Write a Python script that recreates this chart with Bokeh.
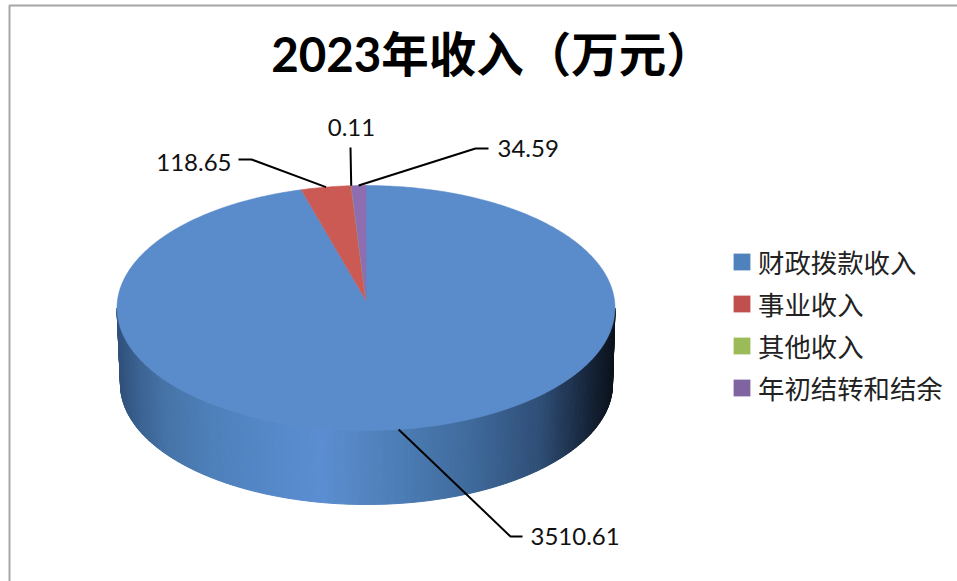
import numpy as np
from bokeh.embed import file_html
from bokeh.resources import INLINE
from bokeh.plotting import figure
from bokeh.models import Range1d, Legend, LegendItem, ColumnDataSource
from bokeh.core.properties import value

# ---- data ----
title_text = "2023年收入（万元）"
categories = ["财政拨款收入", "事业收入", "其他收入", "年初结转和结余"]
values = [3510.61, 118.65, 0.11, 34.59]
value_labels = ["3510.61", "118.65", "0.11", "34.59"]

# ---- styles ----
top_colors = ["#5A8BCB", "#CB5A55", "#9BBB59", "#8E6DB0"]
legend_colors = ["#4F81BD", "#C0504D", "#9BBB59", "#8064A2"]
FONT = "Lato, 'Noto Sans CJK SC'"
LEGEND_FONT = "'Noto Sans CJK SC'"

# ---- layout (page pixels) ----
CX, CY, RX, RY = 365.5, 307.5, 249.0, 122.5
APEX_Y = 300.0
CX2, CY2, RX2, RY2 = 366.0, 384.0, 246.0, 120.0
label_elbows = [(510, 536, 522, 536), (251, 159, 238, 159), (350, 147, 350, 147), (475, 148, 488, 148)]
label_pos = [(530, 536, "left"), (231, 162, "right"), (351, 127, "center"), (497, 148, "left")]
grad_x = [117, 140, 165, 210, 250, 290, 320, 350, 400, 470, 540, 590, 615]
grad_r = [0x30, 0x3C, 0x46, 0x4E, 0x52, 0x58, 0x5B, 0x57, 0x4C, 0x3F, 0x2F, 0x14, 0x0B]
grad_g = [0x50, 0x64, 0x74, 0x80, 0x86, 0x8B, 0x8E, 0x88, 0x7D, 0x6A, 0x4E, 0x22, 0x11]
grad_b = [0x7A, 0x94, 0xA8, 0xBA, 0xC4, 0xCD, 0xD2, 0xC6, 0xB5, 0x9C, 0x76, 0x36, 0x18]


def top_pt(deg):
    a = np.radians(deg)
    return CX + RX * np.sin(a), CY - RY * np.cos(a)


def low_pt(deg):
    a = np.radians(deg)
    return CX2 + RX2 * np.sin(a), CY2 - RY2 * np.cos(a)


p = figure(width=957, height=581, output_backend="svg", toolbar_location=None,
           x_range=Range1d(0, 957), y_range=Range1d(581, 0), min_border=0)
p.axis.visible = False
p.grid.visible = False
p.outline_line_color = None
p.background_fill_color = "#FFFFFF"
p.border_fill_color = "#FFFFFF"

# chart frame
p.line([9, 9, 957], [581, 5, 5], line_color="#A6A6A6", line_width=2)

# side wall
angles = np.arange(90.0, 270.0, 0.75)
xs, ys, cols = [], [], []
for a in angles:
    b = min(a + 0.75, 270.0)
    tx0, ty0 = top_pt(a)
    tx1, ty1 = top_pt(b)
    lx0, ly0 = low_pt(a)
    lx1, ly1 = low_pt(b)
    xs.append([tx0, tx1, lx1, lx0])
    ys.append([ty0, ty1, ly1, ly0])
    mid = (tx0 + tx1 + lx0 + lx1) / 4
    r, g, bl = [int(np.interp(mid, grad_x, c)) for c in (grad_r, grad_g, grad_b)]
    cols.append(f"#{r:02X}{g:02X}{bl:02X}")
p.patches("x", "y", source=ColumnDataSource(dict(x=xs, y=ys, c=cols)),
          fill_color="c", line_color="c", line_width=1)

# top face: slices clockwise from 12 o'clock
total = sum(values)
start = 0.0
mids = []
for v, col in zip(values, top_colors):
    sweep = 360.0 * v / total
    arc = np.linspace(start, start + sweep, max(int(sweep * 2), 2))
    ax, ay = top_pt(arc)
    p.patch(np.r_[CX, ax], np.r_[APEX_Y, ay], fill_color=col, line_color=col, line_width=0.5)
    mids.append(start + sweep / 2)
    start += sweep

# leader lines and value labels
for mid, elbow, pos, txt in zip(mids, label_elbows, label_pos, value_labels):
    sx, sy = top_pt(mid)
    p.line([sx, elbow[0], elbow[2]], [sy, elbow[1], elbow[3]], line_color="#000000", line_width=2)
    p.text([pos[0]], [pos[1]], text=[txt], text_font=value(FONT), text_font_size="24px",
           text_color="#111111", text_align=pos[2], text_baseline="middle")

# title
p.text([492], [53], text=[title_text], text_font=value(FONT), text_font_size="47.5px",
       text_font_style="bold", text_color="#000000", text_align="center", text_baseline="middle")

# legend
items = []
for name, col in zip(categories, legend_colors):
    r = p.patch([float("nan")], [float("nan")], fill_color=col, line_color=None)
    items.append(LegendItem(label=value(name), renderers=[r]))
legend = Legend(items=items, location=(731, 174), orientation="vertical",
                glyph_width=21, glyph_height=21, label_standoff=6, spacing=3, padding=0, margin=0,
                label_text_font=LEGEND_FONT, label_text_font_size="26.4px", label_text_color="#222222",
                label_height=21, background_fill_alpha=0, border_line_color=None)
p.add_layout(legend, "center")

open("out.html", "w").write(file_html(p, INLINE))
